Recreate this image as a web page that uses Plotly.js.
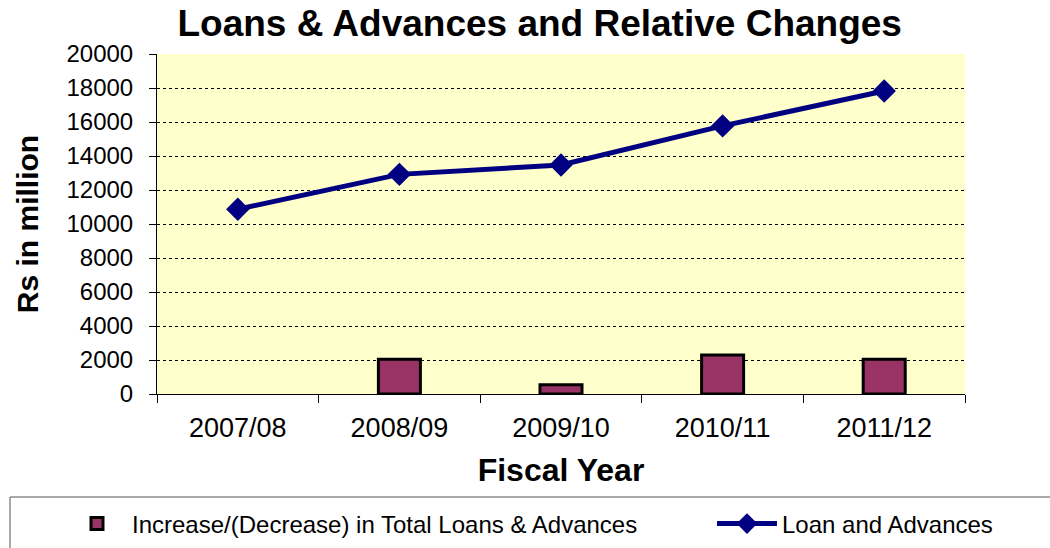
<!DOCTYPE html>
<html><head><meta charset="utf-8">
<script src="https://cdn.plot.ly/plotly-3.0.1.min.js"></script>
<style>body{margin:0;background:#fff}#chart{width:1050px;height:548px}</style>
</head><body><div id="chart"></div>
<script>
const fiscalYears = ["2007/08", "2008/09", "2009/10", "2010/11", "2011/12"];
const loansAdvances = [10870, 12920, 13470, 15770, 17820];
const increaseDecrease = [null, 2050, 550, 2300, 2050];
const yTicks = [0, 2000, 4000, 6000, 8000, 10000, 12000, 14000, 16000, 18000, 20000];

const font = "'Liberation Sans', Arial, sans-serif";
const px = v => (v - 157) / 808;
const py = v => (394 - v) / 340;
const traces = [
  {type: "bar", x: fiscalYears, y: increaseDecrease, name: "Increase/(Decrease) in Total Loans & Advances",
   marker: {color: "#993366", line: {color: "#000", width: 3}}, width: 0.26, legend: "legend"},
  {type: "scatter", mode: "lines+markers", x: fiscalYears, y: loansAdvances, name: "Loan and Advances",
   line: {color: "#000080", width: 5}, marker: {symbol: "diamond", size: 18, color: "#000080"}, legend: "legend2"}
];
const layout = {
  width: 1050, height: 548,
  margin: {l: 157, r: 85, t: 54, b: 154, autoexpand: false},
  paper_bgcolor: "#fff", plot_bgcolor: "#FFFFCC",
  font: {family: font, color: "#000", size: 24},
  title: {text: "<b>Loans & Advances and Relative Changes</b>", font: {size: 37, family: font},
          x: 0.514, xanchor: "center", y: 0.958, yanchor: "middle"},
  xaxis: {type: "category", tickson: "boundaries", ticks: "outside", ticklen: 8, tickcolor: "#000",
          showline: true, linecolor: "#000", linewidth: 1, showgrid: false, automargin: false,
          ticklabelstandoff: 10,
          tickfont: {size: 27}, title: {text: "<b>Fiscal Year</b>", font: {size: 32}, standoff: 16}},
  yaxis: {range: [0, 20000], tickvals: yTicks, ticktext: yTicks.map(String), ticks: "outside", ticklen: 7,
          tickcolor: "#000", showline: true, linecolor: "#000", linewidth: 1, automargin: false,
          ticklabelstandoff: 11,
          showgrid: true, gridcolor: "#000", griddash: "dot", gridwidth: 1, zeroline: false,
          tickfont: {size: 24}, title: {text: "<b>Rs in million</b>", font: {size: 30}, standoff: 18}},
  showlegend: true,
  legend: {orientation: "h", x: px(62), xanchor: "left", y: py(524), yanchor: "middle",
           font: {size: 24}, bgcolor: "rgba(0,0,0,0)", itemwidth: 60},
  legend2: {orientation: "h", x: px(712), xanchor: "left", y: py(524), yanchor: "middle",
           font: {size: 24}, bgcolor: "rgba(0,0,0,0)", itemwidth: 60},
  shapes: [{type: "rect", xref: "paper", yref: "paper", x0: px(10), x1: 1.12, y0: py(497), y1: -0.6,
            line: {color: "#555", width: 1}, fillcolor: "rgba(0,0,0,0)"}]
};
Plotly.newPlot("chart", traces, layout, {displayModeBar: false, staticPlot: true});
</script></body></html>
